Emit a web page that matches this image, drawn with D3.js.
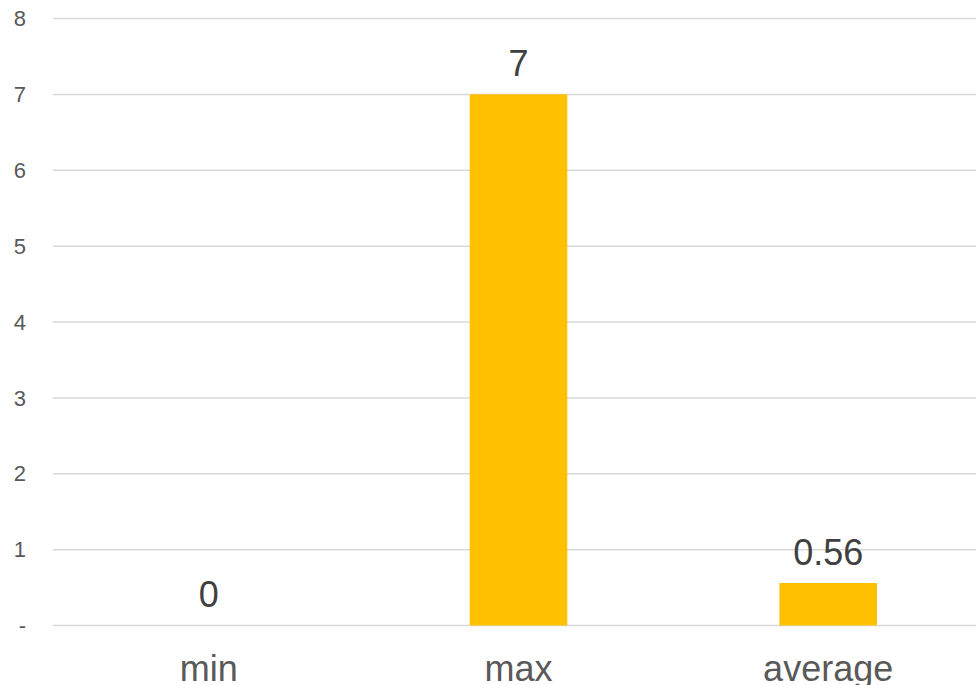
<!DOCTYPE html>
<html>
<head>
<meta charset="utf-8">
<script src="https://cdn.jsdelivr.net/npm/d3@7"></script>
<style>
  html, body { margin: 0; padding: 0; background: #fff; }
  svg { display: block; font-family: "Liberation Sans", Arial, sans-serif; }
</style>
</head>
<body>
<svg id="chart" width="976" height="685"></svg>
<script>
// Summary statistics
const categories = ["min", "max", "average"];
const values = [0, 7, 0.56];
const valueLabels = ["0", "7", "0.56"];
const yTicks = [0, 1, 2, 3, 4, 5, 6, 7, 8];
const yTickLabels = ["-", "1", "2", "3", "4", "5", "6", "7", "8"];

const svg = d3.select("#chart");

const plot = { left: 54, right: 983, top: 18.5, bottom: 625.5 };

const x = d3.scaleBand()
  .domain(categories)
  .range([plot.left, plot.right])
  .paddingInner(0.685)
  .paddingOuter(0.3425);

const y = d3.scaleLinear()
  .domain([0, 8])
  .range([plot.bottom, plot.top]);

// Horizontal gridlines
svg.append("g")
  .selectAll("line")
  .data(yTicks)
  .join("line")
  .attr("x1", 53)
  .attr("x2", 976)
  .attr("y1", d => y(d))
  .attr("y2", d => y(d))
  .attr("stroke", "#d9d9d9")
  .attr("stroke-width", 1.5);

// Value axis labels
svg.append("g")
  .selectAll("text")
  .data(yTicks)
  .join("text")
  .attr("x", 26)
  .attr("y", d => y(d))
  .attr("dy", "0.35em")
  .attr("text-anchor", "end")
  .attr("fill", "#595959")
  .attr("font-size", 22)
  .text((d, i) => yTickLabels[i]);

// Bars
svg.append("g")
  .selectAll("rect")
  .data(values)
  .join("rect")
  .attr("x", (d, i) => x(categories[i]))
  .attr("width", x.bandwidth())
  .attr("y", d => y(d))
  .attr("height", d => y(0) - y(d))
  .attr("fill", "#FFC000");

// Value labels above bars
svg.append("g")
  .selectAll("text")
  .data(values)
  .join("text")
  .attr("x", (d, i) => x(categories[i]) + x.bandwidth() / 2)
  .attr("y", d => y(d) - 18.5)
  .attr("text-anchor", "middle")
  .attr("fill", "#404040")
  .attr("font-size", 36)
  .text((d, i) => valueLabels[i]);

// Category labels
svg.append("g")
  .selectAll("text")
  .data(categories)
  .join("text")
  .attr("x", d => x(d) + x.bandwidth() / 2)
  .attr("y", 681)
  .attr("text-anchor", "middle")
  .attr("fill", "#595959")
  .attr("font-size", 36)
  .text(d => d);
</script>
</body>
</html>
